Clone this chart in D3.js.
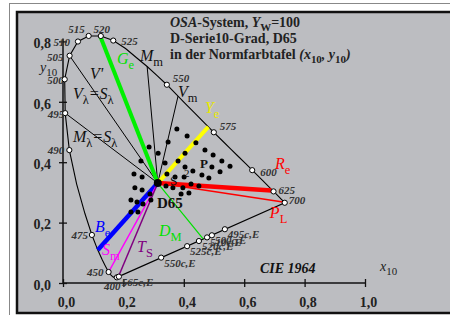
<!DOCTYPE html>
<html>
<head>
<meta charset="utf-8">
<script src="https://cdn.jsdelivr.net/npm/d3@7"></script>
<style>
  body { margin: 0; background: #ffffff; }
  svg { display: block; }
  text { font-family: "Liberation Serif", "DejaVu Serif", serif; }
</style>
</head>
<body>
<script>
// CIE 1964 spectral locus (x10, y10)
var locusWl = [400,410,420,430,440,450,455,460,465,470,475,480,485,490,495,500,505,510,515,520,525,530,535,540,545,550,555,560,565,570,575,580,585,590,595,600,610,620,625,630,640,650,660,680,700];
var locusX = [0.1784,0.1755,0.1706,0.1650,0.1590,0.1510,0.1459,0.1389,0.1295,0.1152,0.0957,0.0728,0.0452,0.0210,0.0073,0.0056,0.0219,0.0495,0.0850,0.1252,0.1664,0.2071,0.2436,0.2786,0.3116,0.3439,0.3752,0.4066,0.4380,0.4690,0.4994,0.5285,0.5557,0.5815,0.6049,0.6265,0.6615,0.6877,0.6971,0.7048,0.7153,0.7223,0.7269,0.7319,0.7343];
var locusY = [0.0187,0.0181,0.0179,0.0203,0.0257,0.0364,0.0452,0.0589,0.0779,0.1090,0.1591,0.2292,0.3275,0.4401,0.5625,0.6745,0.7526,0.7996,0.8181,0.8179,0.8028,0.7765,0.7459,0.7169,0.6869,0.6565,0.6247,0.5926,0.5606,0.5293,0.4991,0.4702,0.4433,0.4181,0.3950,0.3736,0.3390,0.3128,0.3033,0.2957,0.2851,0.2781,0.2734,0.2683,0.2657];

// wavelengths marked with open circles on the locus
var markedWl = [400,450,475,490,495,500,505,510,515,520,525,550,575,600,625,700];

// complementary wavelengths on the purple line
var compLabels = ["565c,E","550c,E","525c,E","520c,E","510c,E","500c,E","495c,E"];
var compX = [0.185,0.325,0.411,0.450,0.477,0.493,0.536];
var compY = [0.021,0.084,0.122,0.139,0.151,0.158,0.178];

// white point
var d65 = [0.3138, 0.3310];

// OSA samples (x10, y10)
var osaX = [0.377,0.411,0.348,0.440,0.285,0.315,0.470,0.497,0.258,0.338,0.381,0.404,0.526,0.553,0.404,0.430,0.493,0.520,0.460,0.483,0.235,0.262,0.344,0.371,0.401,0.341,0.364,0.397,0.424,0.450,0.391,0.417,0.238,0.262,0.288,0.225,0.245,0.265,0.291,0.225,0.248];
var osaY = [0.510,0.487,0.467,0.464,0.450,0.430,0.440,0.424,0.404,0.397,0.404,0.430,0.404,0.387,0.384,0.371,0.384,0.368,0.358,0.348,0.361,0.351,0.361,0.351,0.351,0.321,0.315,0.315,0.328,0.321,0.295,0.298,0.315,0.308,0.295,0.275,0.268,0.262,0.275,0.235,0.235];

// lines from D65 to the named hues
var hueNames = ["Ge","Ye","Re","PL","Be","Sm","TS","DM","Mm","Vm","V505","M495"];
var hueEndX = [0.123,0.481,0.690,0.728,0.1152,0.151,0.183,0.464,0.2786,0.381,0.0219,0.0073];
var hueEndY = [0.818,0.517,0.306,0.268,0.1090,0.0364,0.020,0.146,0.7169,0.619,0.7526,0.5625];
var hueColor = ["#00f000","#ffff00","#ff0000","#ff0000","#0000ff","#ff00ff","#800080","#00e000","#000000","#000000","#000000","#000000"];
var hueWidth = [4,4,4.5,1.5,4.5,1.5,1.5,1.2,1,1,1,1];

var xTicks = [0,0.2,0.4,0.6,0.8,1.0];
var yTicks = [0,0.2,0.4,0.6,0.8];

var W = 450, H = 315;

var svg = d3.select("body").append("svg")
  .attr("width", W).attr("height", H);

// frames
svg.append("rect").attr("x", 9.5).attr("y", 3.5).attr("width", 460).attr("height", 330)
  .style("fill", "#ffffff").style("stroke", "#888888").style("stroke-width", 1);
svg.append("rect").attr("x", 17).attr("y", 12).attr("width", 460).attr("height", 301)
  .style("fill", "#bcbdc1").style("stroke", "#111111").style("stroke-width", 2.5);

var x = d3.scaleLinear().domain([0, 1]).range([63, 365]);
var y = d3.scaleLinear().domain([0, 1]).range([283, -19]);

var fmt = function(d){ return d3.format(".1f")(d).replace(".", ","); };

// x axis
var xAxis = d3.axisBottom(x).tickValues(xTicks).tickFormat(fmt).tickSize(4).tickPadding(10);
var gx = svg.append("g").attr("transform", "translate(0," + y(0) + ")").call(xAxis);
gx.select(".domain").attr("d", "M" + x(0) + ",0H" + x(1)).style("stroke", "#111").style("stroke-width", 1.5);
gx.selectAll(".tick line").attr("y1", -4).style("stroke", "#111").style("stroke-width", 1.3);
gx.selectAll(".tick text").attr("dx", 3)
  .style("font-family", "Liberation Serif").style("font-size", "14px").style("font-weight", "bold").style("fill", "#222");

// y axis
var yAxis = d3.axisLeft(y).tickValues(yTicks).tickFormat(fmt).tickSize(4).tickPadding(8);
var gy = svg.append("g").attr("transform", "translate(" + x(0) + ",0)").call(yAxis);
gy.select(".domain").attr("d", "M0," + y(0) + "V" + y(0.81)).style("stroke", "#111").style("stroke-width", 1.5);
gy.selectAll(".tick line").attr("x1", 4).style("stroke", "#111").style("stroke-width", 1.3);
gy.selectAll(".tick text").attr("dy", "0.45em")
  .style("font-family", "Liberation Serif").style("font-size", "14px").style("font-weight", "bold").style("fill", "#222");

// spectral locus + purple line
var locus = locusWl.map(function(w, i){ return [locusX[i], locusY[i]]; });
svg.append("path")
  .datum(locus)
  .attr("d", d3.line().x(d => x(d[0])).y(d => y(d[1])).curve(d3.curveLinearClosed))
  .style("fill", "none").style("stroke", "#000").style("stroke-width", 1.1);

// hue lines from D65
var hues = hueNames.map(function(n, i){
  return {name: n, x: hueEndX[i], y: hueEndY[i], c: hueColor[i], w: hueWidth[i]};
});
// black lines first, then coloured ones on top
hues.sort(function(a, b){ return (a.c == "#000000" ? 0 : 1) - (b.c == "#000000" ? 0 : 1); });
svg.append("g").selectAll("line").data(hues).enter().append("line")
  .attr("x1", x(d65[0])).attr("y1", y(d65[1]))
  .attr("x2", d => x(d.x)).attr("y2", d => y(d.y))
  .style("stroke", d => d.c).style("stroke-width", d => d.w);

// OSA sample dots
var osa = osaX.map(function(v, i){ return [v, osaY[i]]; });
svg.append("g").selectAll("circle").data(osa).enter().append("circle")
  .attr("cx", d => x(d[0])).attr("cy", d => y(d[1])).attr("r", 2.5)
  .style("fill", "#000");
svg.append("circle").attr("cx", x(d65[0])).attr("cy", y(d65[1])).attr("r", 4).style("fill", "#000");

// wavelength markers and labels
var wlLayout = {
  400: [-13, 13, "start"], 450: [-5, 4, "end"], 475: [-4, 4, "end"], 490: [-5, 4, "end"],
  495: [-1, 5, "end"], 500: [-1, 5, "end"], 505: [-6, 5, "end"], 510: [-8, 4, "end"],
  515: [-4, -3, "end"], 520: [1, -3, "middle"], 525: [8, 4, "start"], 550: [6, -3, "start"],
  575: [6, -2, "start"], 600: [8, 6, "start"], 625: [5, 3, "start"], 700: [4, 1, "start"]
};
var marks = markedWl.map(function(w){
  var i = locusWl.indexOf(w);
  return {w: w, x: locusX[i], y: locusY[i]};
});
var gm = svg.append("g");
gm.selectAll("text").data(marks).enter().append("text")
  .attr("x", d => x(d.x) + wlLayout[d.w][0]).attr("y", d => y(d.y) + wlLayout[d.w][1])
  .attr("text-anchor", d => wlLayout[d.w][2])
  .style("font-size", "11px").style("font-style", "italic").style("font-weight", "bold").style("fill", "#333")
  .text(d => d.w);
gm.selectAll("circle").data(marks).enter().append("circle")
  .attr("cx", d => x(d.x)).attr("cy", d => y(d.y)).attr("r", 2.6)
  .style("fill", "#fff").style("stroke", "#000").style("stroke-width", 1);

var comps = compLabels.map(function(l, i){ return {l: l, x: compX[i], y: compY[i]}; });
var gc = svg.append("g");
gc.selectAll("text").data(comps).enter().append("text")
  .attr("x", d => x(d.x) + 3).attr("y", d => y(d.y) + 9)
  .style("font-size", "11px").style("font-style", "italic").style("font-weight", "bold").style("fill", "#333")
  .text(d => d.l);
gc.selectAll("circle").data(comps).enter().append("circle")
  .attr("cx", d => x(d.x)).attr("cy", d => y(d.y)).attr("r", 2.6)
  .style("fill", "#fff").style("stroke", "#000").style("stroke-width", 1);

// rich text helper: segments with italic / subscript
function richText(g, px, py, segs, size, color, weight) {
  var t = g.append("text").attr("x", px).attr("y", py)
    .style("font-size", size + "px").style("fill", color).style("font-weight", weight || "normal");
  var down = false;
  segs.forEach(function(s){
    var ts = t.append("tspan").text(s.t);
    if (s.i) ts.style("font-style", "italic");
    if (s.sub && !down) { ts.attr("dy", size * 0.3).style("font-size", (size * 0.78) + "px"); down = true; }
    else if (s.sub) { ts.style("font-size", (size * 0.78) + "px"); }
    else if (down) { ts.attr("dy", -size * 0.3); down = false; }
  });
  return t;
}

// title
var gt = svg.append("g");
richText(gt, 170, 27, [{t: "OSA", i: true}, {t: "-System, "}, {t: "Y", i: true}, {t: "W", sub: true}, {t: "=100"}], 14, "#222", "bold");
richText(gt, 170, 43, [{t: "D-Serie10-Grad, D65"}], 14, "#222", "bold");
richText(gt, 170, 59, [{t: "in der Normfarbtafel "}, {t: "(x", i: true}, {t: "10", sub: true}, {t: ", y", i: true}, {t: "10", sub: true}, {t: ")", i: true}], 14, "#222", "bold");

// axis names
richText(svg, 40, 72, [{t: "y", i: true}, {t: "10", sub: true}], 14, "#222");
richText(svg, 380, 271, [{t: "x", i: true}, {t: "10", sub: true}], 14, "#222");
svg.append("text").attr("x", 260).attr("y", 273)
  .style("font-size", "14px").style("font-weight", "bold").style("font-style", "italic").style("fill", "#111")
  .text("CIE 1964");

// annotation labels (data coordinates)
var ann = [
  {x: 0.179, y: 0.725, c: "#00e000", s: [{t: "G", i: true}, {t: "e", sub: true}]},
  {x: 0.255, y: 0.735, c: "#111", s: [{t: "M", i: true}, {t: "m", sub: true}]},
  {x: 0.089, y: 0.675, c: "#111", s: [{t: "V'", i: true}]},
  {x: 0.033, y: 0.609, c: "#111", s: [{t: "V", i: true}, {t: "λ", sub: true}, {t: "=S", i: true}, {t: "λ", sub: true}]},
  {x: 0.381, y: 0.616, c: "#111", s: [{t: "V", i: true}, {t: "m", sub: true}]},
  {x: 0.470, y: 0.563, c: "#e8e800", s: [{t: "Y", i: true}, {t: "e", sub: true}]},
  {x: 0.033, y: 0.467, c: "#111", s: [{t: "M", i: true}, {t: "λ", sub: true}, {t: "=S", i: true}, {t: "λ", sub: true}]},
  {x: 0.702, y: 0.377, c: "#ff0000", s: [{t: "R", i: true}, {t: "e", sub: true}]},
  {x: 0.685, y: 0.215, c: "#ff0000", s: [{t: "P", i: true}, {t: "L", sub: true}]},
  {x: 0.106, y: 0.169, c: "#0000ff", s: [{t: "B", i: true}, {t: "e", sub: true}]},
  {x: 0.129, y: 0.093, c: "#ff00ff", s: [{t: "S", i: true}, {t: "m", sub: true}]},
  {x: 0.245, y: 0.103, c: "#800080", s: [{t: "T", i: true}, {t: "S", sub: true}]},
  {x: 0.318, y: 0.156, c: "#00e000", s: [{t: "D", i: true}, {t: "M", sub: true}]}
];
ann.forEach(function(a){ richText(svg, x(a.x), y(a.y), a.s, 16, a.c); });

svg.append("text").attr("x", x(0.311)).attr("y", y(0.248))
  .style("font-size", "15px").style("font-weight", "bold").style("fill", "#111").text("D65");
svg.append("text").attr("x", x(0.454)).attr("y", y(0.381))
  .style("font-size", "13px").style("font-weight", "bold").style("fill", "#111").text("P");
svg.append("text").attr("x", x(0.401)).attr("y", y(0.351))
  .style("font-size", "11px").style("fill", "#111").text("2");
svg.append("text").attr("x", x(0.354)).attr("y", y(0.325))
  .style("font-size", "13px").style("fill", "#111").text("S");
</script>
</body>
</html>
